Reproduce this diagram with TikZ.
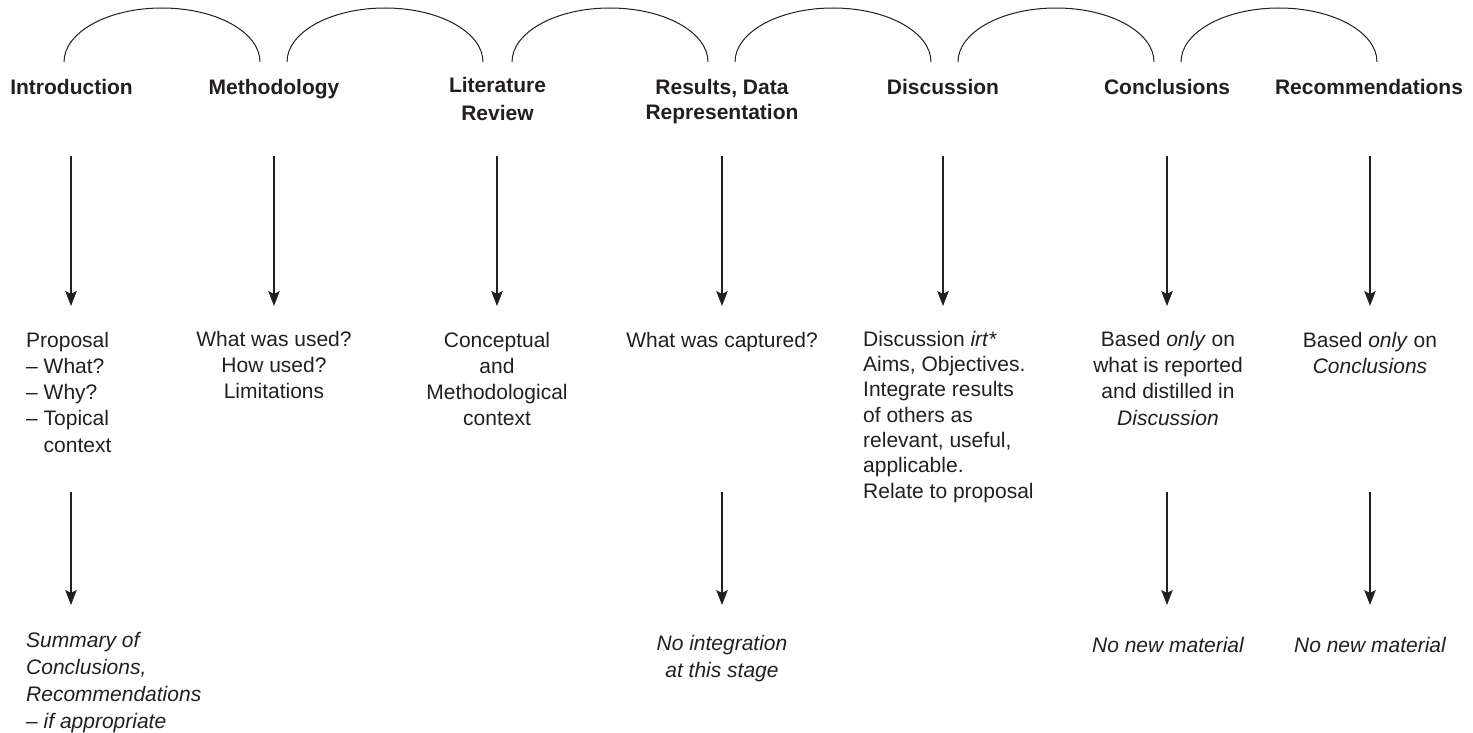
\documentclass[tikz,border=0pt]{standalone}
\usepackage{fontspec}
\setmainfont{Liberation Sans}
\usetikzlibrary{arrows.meta}
\definecolor{ink}{HTML}{231F20}
\begin{document}
\begin{tikzpicture}[x=1pt,y=-1pt,
  % multi-line nodes sit on the baseline of their last line
  head/.style={font=\fontsize{21}{#1}\selectfont\bfseries, align=center,
               anchor=base, inner sep=0pt, text=ink},
  head/.default=26,
  body/.style={font=\fontsize{21}{#1}\selectfont, align=center,
               anchor=base, inner sep=0pt, text=ink},
  body/.default=26,
  note/.style={font=\fontsize{21}{#1}\selectfont\itshape, align=center,
               anchor=base, inner sep=0pt, text=ink},
  note/.default=26,
  link/.style={draw=ink, line width=1.2pt,
               -{Stealth[length=15pt,width=11.5pt,inset=3pt]}},
  bracket/.style={draw=ink, line width=1pt}]
\useasboundingbox (0,0) rectangle (1473,733);

% brackets joining neighbouring sections
\foreach \i/\x in {1/64,2/287,3/512,4/735,5/958,6/1181}{
  \coordinate (arc\i) at (\x,62);
  \draw[bracket] (arc\i) arc[start angle=180, end angle=360,
                             x radius=98, y radius=54];
}

% section headings
\node[head] (h1) at (71.5,95) {Introduction};
\node[head] (h2) at (274,95)  {Methodology};
\node[head=28] (h3) at (497.5,121) {Literature\\Review};
\node[head=25] (h4) at (722,120) {Results, Data\\Representation};
\node[head] (h5) at (943,95)  {Discussion};
\node[head] (h6) at (1167,95) {Conclusions};
\node[head] (h7) at (1369,95) {Recommendations};

% what each section holds
\node[body=26.25, align=left, anchor=base west] (b1) at (26,452)
  {Proposal\\– What?\\– Why?\\– Topical\\\phantom{– }context};
\node[body=25.8] (b2) at (274,398.5) {What was used?\\How used?\\Limitations};
\node[body=26] (b3) at (497,425) {Conceptual\\and\\Methodological\\context};
\node[body] (b4) at (722,347) {What was captured?};
\node[body=25.3, align=left, anchor=base west] (b5) at (863,498)
  {Discussion \textit{irt*}\\Aims, Objectives.\\Integrate results\\of others as\\relevant, useful,\\applicable.\\Relate to proposal};
\node[body=26.1] (b6) at (1168,425)
  {Based \textit{only} on\\what is reported\\and distilled in\\\textit{Discussion}};
\node[body=26.3] (b7) at (1370,373.3) {Based \textit{only} on\\\textit{Conclusions}};

% constraints
\node[note=26.7, align=left, anchor=base west] (n1) at (26,728)
  {Summary of\\Conclusions,\\Recommendations\\– if appropriate};
\node[note=27] (n4) at (722,677) {No integration\\at this stage};
\node[note] (n6) at (1168,652) {No new material};
\node[note] (n7) at (1370,652) {No new material};

% arrow ends
\foreach \c/\x in {1/71,2/274,3/497,4/722,5/943,6/1167,7/1370}{
  \coordinate (t\c) at (\x,156);
  \coordinate (u\c) at (\x,306);
}
\foreach \c/\x in {1/71,4/722,6/1167,7/1370}{
  \coordinate (v\c) at (\x,492);
  \coordinate (w\c) at (\x,605);
}
\foreach \c in {1,...,7}{ \draw[link] (t\c) -- (u\c); }
\foreach \c in {1,4,6,7}{ \draw[link] (v\c) -- (w\c); }
\end{tikzpicture}
\end{document}
